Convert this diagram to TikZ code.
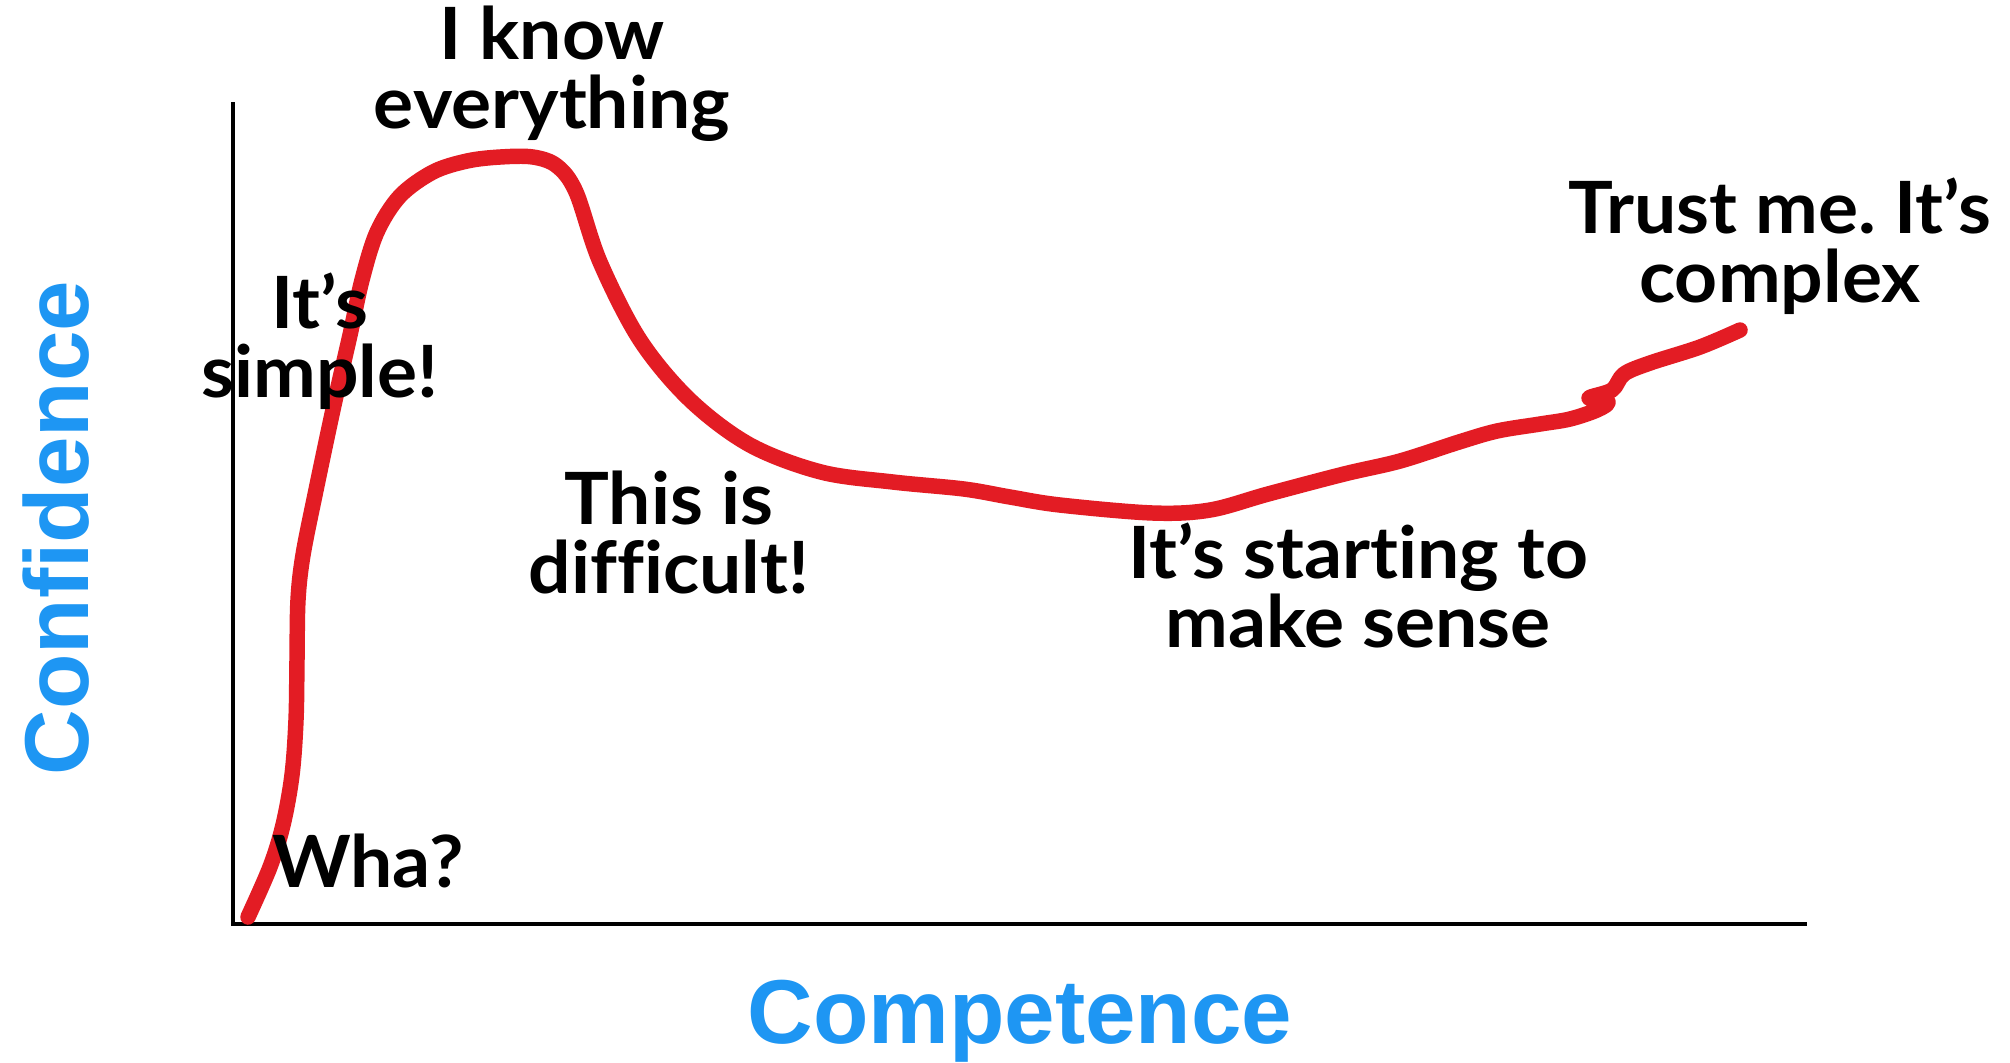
\documentclass[tikz,border=0pt]{standalone}
\usepackage{fontspec}
\setmainfont{Liberation Sans}
\newfontfamily\lblfont[Ligatures={NoCommon},FakeStretch=1.04]{Lato}
\newfontfamily\axfont{Liberation Sans}
\definecolor{curvered}{RGB}{227,28,36}
\definecolor{axisblue}{RGB}{30,150,243}
\frenchspacing
\begin{document}
\begin{tikzpicture}[x=0.01cm,y=-0.01cm,
  lbl/.style={font=\lblfont\bfseries\fontsize{20.5}{19.6}\selectfont\frenchspacing, align=center, anchor=base, inner sep=0pt},
  axlbl/.style={font=\axfont\bfseries\fontsize{25.8}{30}\selectfont, text=axisblue, anchor=base, inner sep=0pt},
  axisline/.style={line width=1.14pt, black},
  curve/.style={line width=4.4pt, curvered, line cap=round, line join=round}]
\useasboundingbox (0,0) rectangle (2010,1062);
\fill[white] (0,0) rectangle (2010,1062);
% axes
\coordinate (ytop) at (233,102);
\coordinate (origin) at (233,924);
\coordinate (xend) at (1807,924);
\draw[axisline] (ytop) -- (origin) -- (xend);
% curve
\draw[curve] plot[smooth, tension=0.55] coordinates {
 (248,917) (270,867) (283,825) (292,775) (296,720)
 (297,660) (298,600) (303,555) (316,490) (334,405)
 (350,335) (362,280) (377,232) (400,196) (433,172) (467,161)
 (500,157) (533,157) (557,166) (576,192) (600,262) (640,340)
 (690,400) (750,445) (821,472) (893,482) (964,489) (1010,497)
 (1060,505) (1153,513) (1210,510) (1268,494) (1344,474) (1400,461)
 (1459,442) (1497,431) (1540,424) (1570,419) (1597,410)
 (1608,402) (1589,398) (1612,390) (1624,374) (1650,363) (1700,347) (1740,330)};
% labels
\node[lbl] (know) at (552,128) {I know\\everything};
\node[lbl] (simple) at (320,397) {It’s\\simple!};
\node[lbl] (difficult) at (669,593) {This is\\difficult!};
\node[lbl] (wha) at (368,887) {Wha?};
\node[lbl] (sense) at (1358,647) {It’s starting to\\make sense};
\node[lbl] (complex) at (1780,302) {Trust me. It’s\\complex};
\node[axlbl] (competence) at (1020,1043) {Competence};
\node[axlbl, rotate=90] (confidence) at (88,528) {Confidence};
\end{tikzpicture}
\end{document}
